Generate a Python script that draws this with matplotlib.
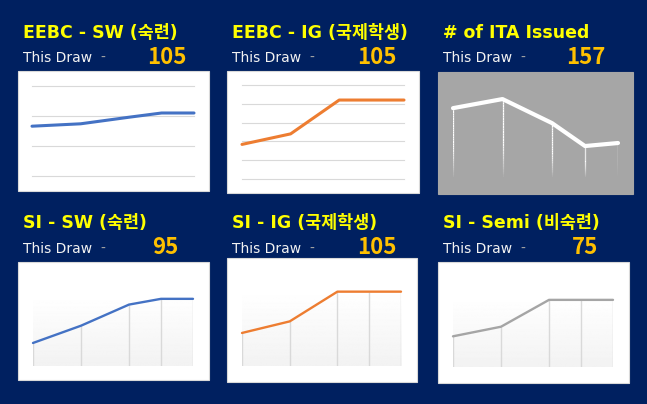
import numpy as np
import matplotlib.pyplot as plt
from matplotlib.patches import Rectangle


# Draw data (five most recent draws, spacing in weeks)

draw_week = [0, 3, 6, 8, 10]

eebc_sw = [83, 87, 98, 105, 105]
eebc_ig = [46, 60, 105, 105, 105]
ita_issued = [318, 360, 249, 143, 157]
si_sw = [72, 81, 92, 95, 95]
si_ig = [80, 87, 105, 105, 105]
si_semi = [56, 61, 75, 75, 75]

titles = [
    "EEBC - SW (숙련)",
    "EEBC - IG (국제학생)",
    "# of ITA Issued",
    "SI - SW (숙련)",
    "SI - IG (국제학생)",
    "SI - Semi (비숙련)",
]

this_draw = ["105", "105", "157", "95", "105", "75"]


# Figure in pixel units

W, H = 647, 404
navy = "#002060"

plt.rcParams["font.family"] = ["Noto Sans CJK KR", "DejaVu Sans"]
latin_first = ["DejaVu Sans", "Noto Sans CJK KR"]

fig = plt.figure(figsize=(W / 100, H / 100), dpi=100)
fig.patch.set_facecolor(navy)


def px_axes(x0, y0, x1, y1):
    ax = fig.add_axes([x0 / W, 1 - y1 / H, (x1 - x0) / W, (y1 - y0) / H])
    return ax


def box(x0, y0, x1, y1, color):
    fig.patches.append(
        Rectangle(
            (x0 / W, 1 - y1 / H),
            (x1 - x0) / W,
            (y1 - y0) / H,
            transform=fig.transFigure,
            facecolor=color,
            edgecolor="#d9d9d9" if color == "white" else color,
            linewidth=0.8,
            zorder=-1,
        )
    )


def header(x, y_title, y_draw, x_num, title, number):
    fig.text(x / W, 1 - y_title / H, title, color="#ffff00",
             fontsize=12.5, fontweight="bold", va="center", ha="left",
             family=latin_first)
    fig.text(x / W, 1 - y_draw / H, "This Draw", color="#f2f2f2",
             fontsize=10, va="center", ha="left", family=latin_first)
    fig.text((x + 77) / W, 1 - y_draw / H, "-", color="#a6a6a6",
             fontsize=10, va="center", ha="left", family=latin_first)
    fig.text(x_num / W, 1 - (y_draw - 1) / H, number, color="#ffc000",
             fontsize=16, fontweight="bold", va="center", ha="center")


def clean(ax):
    ax.set_facecolor("none")
    for s in ax.spines.values():
        s.set_visible(False)
    ax.set_xticks([])
    ax.set_yticks([])
    ax.set_xlim(draw_week[0], draw_week[-1])


# Top row: EEBC with horizontal gridlines

box(18, 71, 209, 191, "white")
ax = px_axes(32, 86, 194, 176)
clean(ax)
ax.set_ylim(0, 150)
for g in [0, 50, 100, 150]:
    ax.axhline(g, color="#d9d9d9", linewidth=0.8, zorder=1, clip_on=False)
ax.plot(draw_week, eebc_sw, color="#4472c4", linewidth=2.2,
        solid_capstyle="round", zorder=3, clip_on=False)
header(23, 33, 58, 167, titles[0], this_draw[0])

box(227, 71, 419, 193, "white")
ax = px_axes(242, 85, 404, 179)
clean(ax)
ax.set_ylim(0, 125)
for g in [0, 25, 50, 75, 100, 125]:
    ax.axhline(g, color="#d9d9d9", linewidth=0.8, zorder=1, clip_on=False)
ax.plot(draw_week, eebc_ig, color="#ed7d31", linewidth=2.2,
        solid_capstyle="round", zorder=3, clip_on=False)
header(232, 33, 58, 377, titles[1], this_draw[1])


# Top row: ITA count with fading drop lines

box(438, 72, 633, 194, "#a6a6a6")
ax = px_axes(453, 72, 618, 177)
clean(ax)
ax.set_ylim(0, 485)
for xw, v in zip(draw_week, ita_issued):
    steps = 30
    ys = np.linspace(v, 0, steps + 1)
    for i in range(steps):
        frac = i / steps
        alpha = 1.0 if frac < 0.55 else max(0.0, 1 - (frac - 0.55) / 0.45)
        ax.plot([xw, xw], [ys[i], ys[i + 1]], color="white",
                linewidth=0.9, alpha=alpha, solid_capstyle="butt",
                zorder=2)
ax.plot(draw_week, ita_issued, color="white", linewidth=3.0,
        solid_capstyle="round", zorder=3, clip_on=False)
header(443, 33, 58, 586, titles[2], this_draw[2])


# Bottom row: SI with gradient background and drop lines

gradient = np.linspace(1.0, 0.95, 100).reshape(-1, 1)


def si_panel(bx, px, values, ylim, color):
    box(*bx, "white")
    ax = px_axes(*px)
    clean(ax)
    ax.set_ylim(*ylim)
    ax.imshow(gradient, cmap="gray", vmin=0, vmax=1, aspect="auto",
              extent=[draw_week[0], draw_week[-1], ylim[0], ylim[1]],
              zorder=0)
    ax.vlines(draw_week, ylim[0], values, color="#d9d9d9",
              linewidth=1.0, zorder=2)
    ax.plot(draw_week, values, color=color, linewidth=1.7,
            solid_capstyle="round", zorder=3, clip_on=False)


si_panel((18, 262, 209, 380), (33, 295, 193, 366), si_sw, (60, 97),
         "#4472c4")
header(23, 223, 249, 165, titles[3], this_draw[3])

si_panel((227, 258, 417, 382), (242, 290, 401, 366), si_ig, (60, 106),
         "#ed7d31")
header(232, 223, 249, 377, titles[4], this_draw[4])

si_panel((438, 262, 629, 383), (453, 297, 613, 367), si_semi, (40, 76.5),
         "#a5a5a5")
header(443, 223, 249, 585, titles[5], this_draw[5])


fig.savefig("out.png", dpi=100, facecolor=navy)
